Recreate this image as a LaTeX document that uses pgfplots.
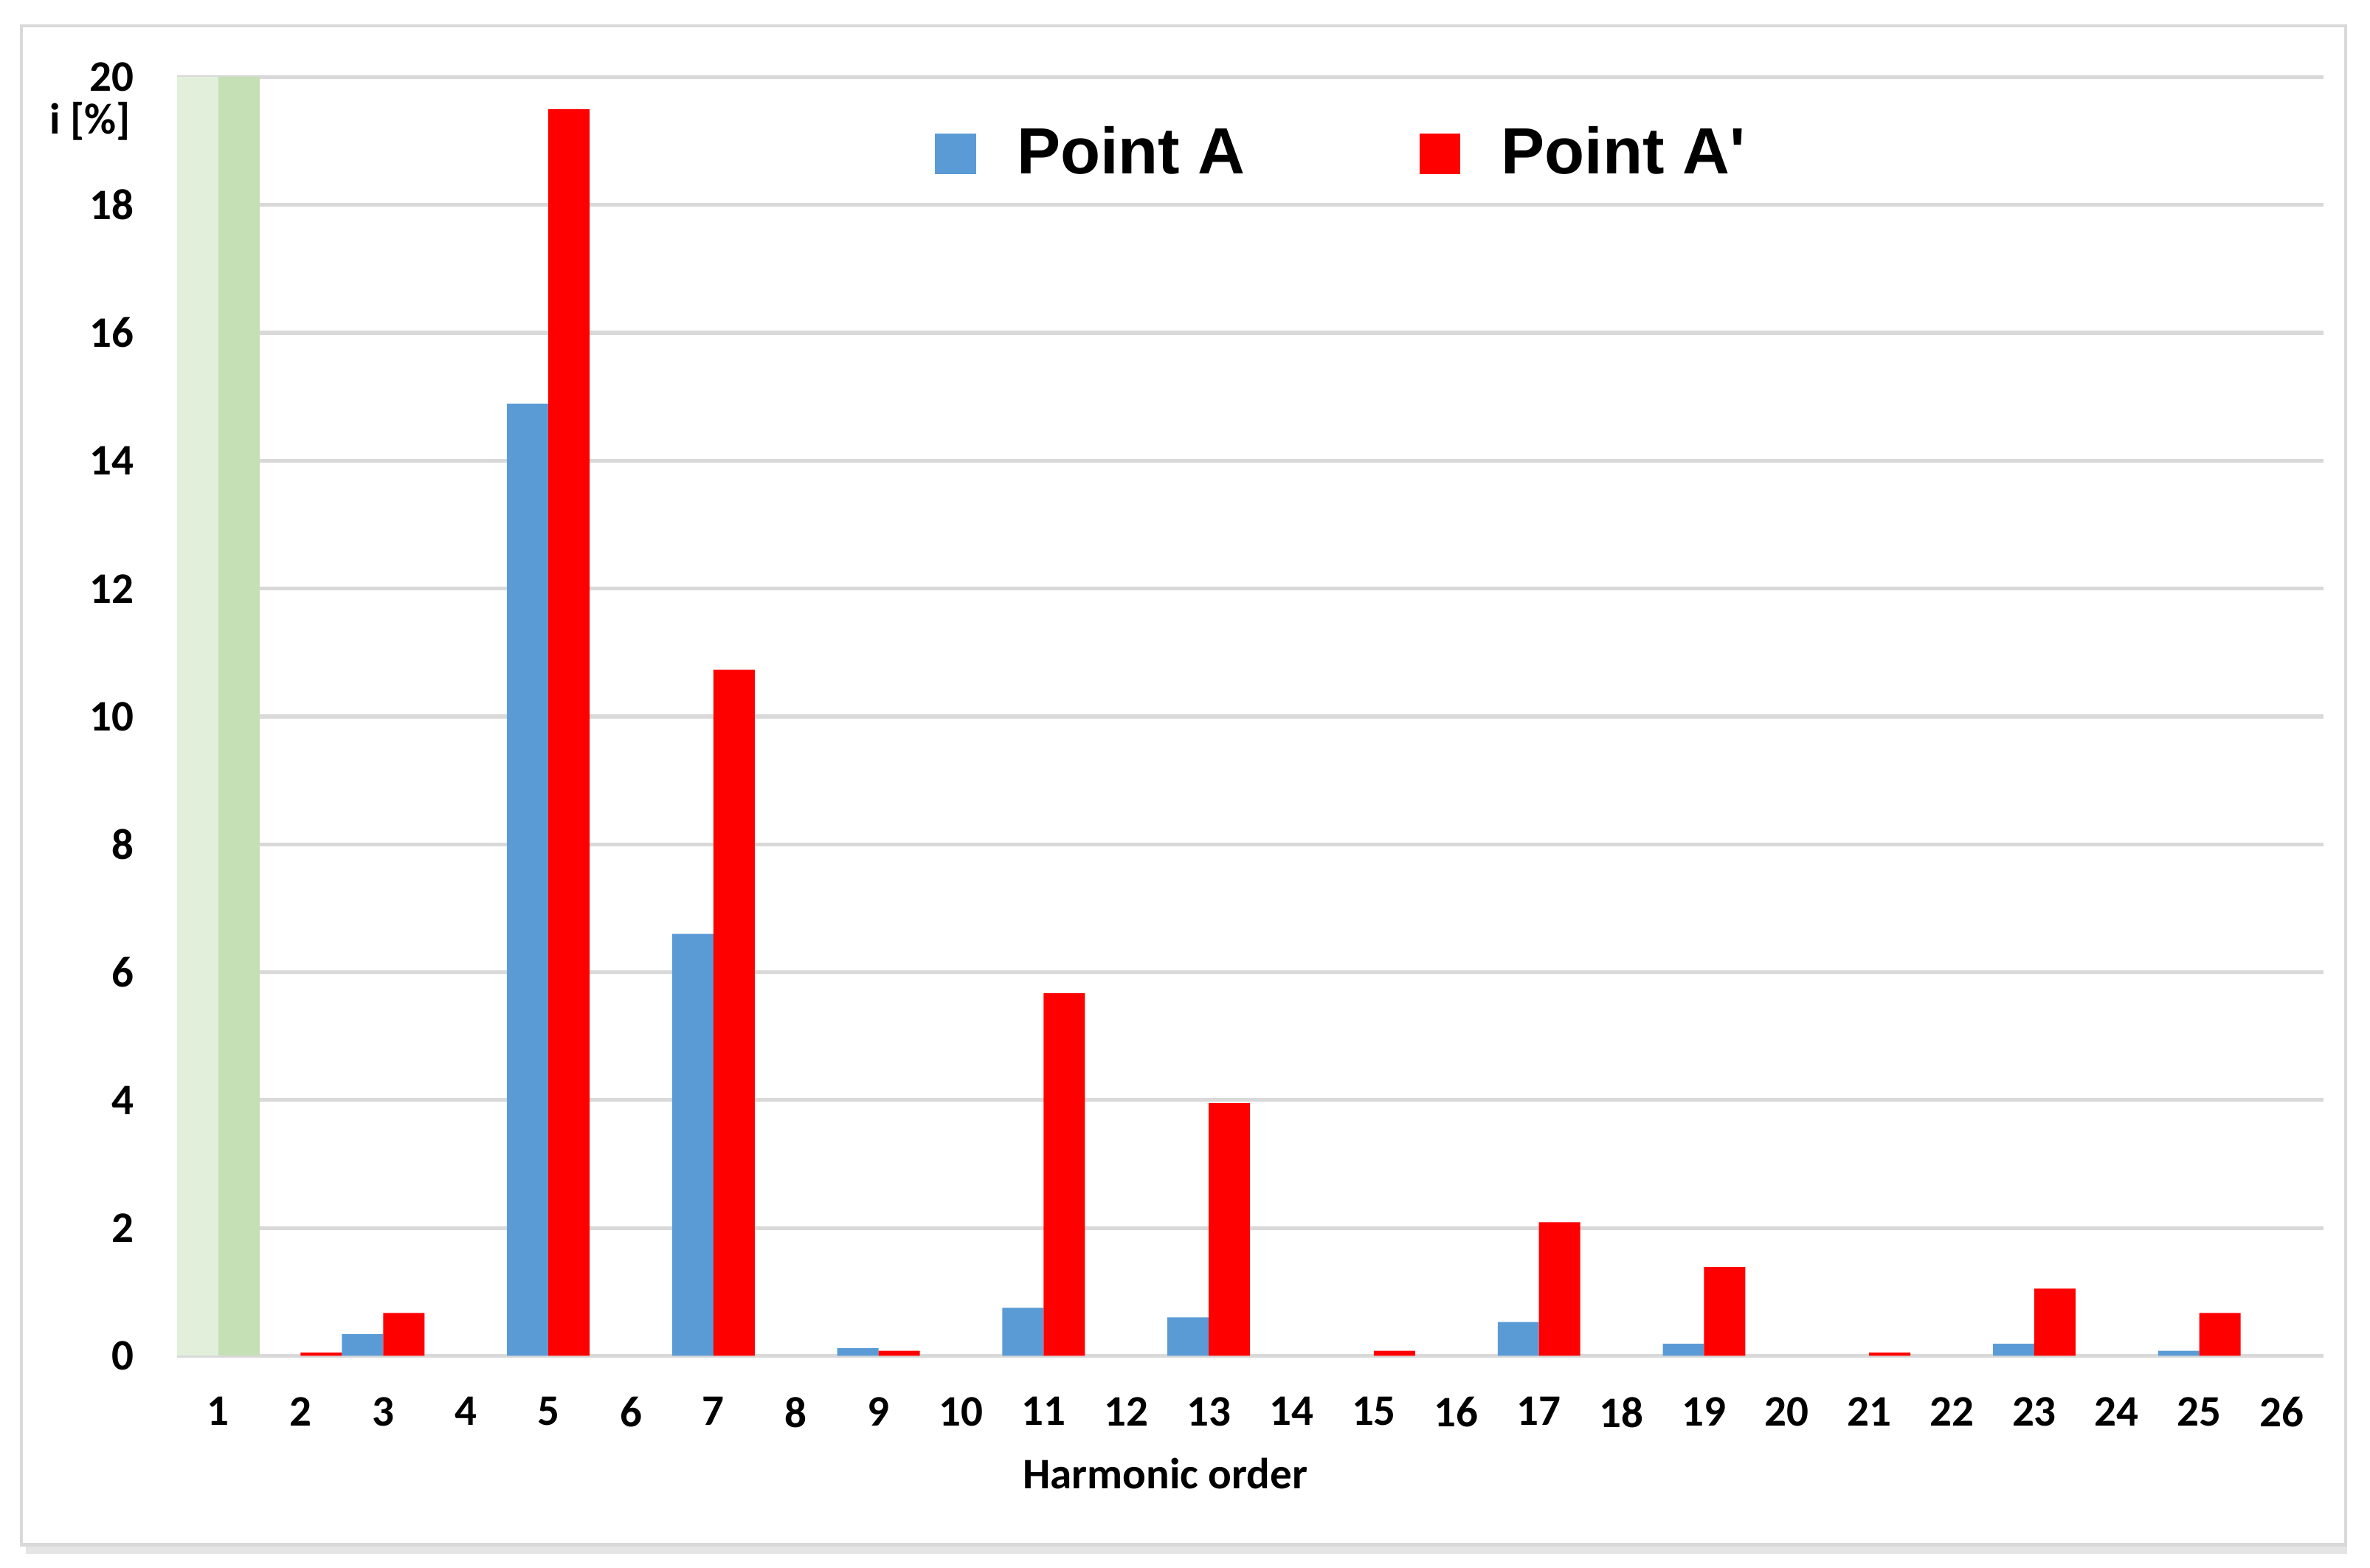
\documentclass[border=0pt]{standalone}
\usepackage{pgfplots}
\pgfplotsset{compat=1.18}
\usepackage{fontspec}
\setmainfont{Carlito}
\newfontfamily\legfont{Liberation Sans}
\definecolor{barblue}{HTML}{5B9BD5}
\definecolor{barred}{HTML}{FF0000}
\definecolor{lgreen}{HTML}{E2EFDA}
\definecolor{dgreen}{HTML}{C5E0B4}
\definecolor{gridgray}{HTML}{D9D9D9}
\begin{document}
\begin{tikzpicture}
\useasboundingbox (0,0) rectangle (15.68,10.37);
\fill[white] (0,0) rectangle (15.68,10.37);
\draw[black!10, line width=0.06cm] (0.17,0.12) -- (15.53,0.12);
\draw[black!15, line width=0.02cm] (0.14,0.15) rectangle (15.52,10.20);
\begin{axis}[
  at={(1.17cm,1.40cm)}, anchor=south west,
  scale only axis, width=14.2cm, height=8.46cm,
  xmin=0.5, xmax=26.5, ymin=0, ymax=20,
  ybar, bar width=0.5,
  axis line style={draw=none},
  ymajorgrids, grid style={gridgray, line width=0.025cm},
  xtick={1,...,26}, ytick={0,2,...,20},
  major tick length=0,
  tick label style={font=\bfseries\fontsize{8.2}{9}\selectfont},
  /pgf/number format/assume math mode=true,
  xticklabel style={anchor=north, yshift=-0.15cm},
  yticklabel style={anchor=east, xshift=-0.16cm},
  legend columns=2,
  legend style={at={(0.3528,0.94)}, anchor=west, draw=none, fill=none, inner sep=0pt,
    font=\legfont\bfseries\fontsize{12.3}{14}\selectfont,
    /tikz/every odd column/.append style={column sep=0.2cm},
    /tikz/every even column/.append style={column sep=1.08cm}},
  legend image code/.code={\fill[#1] (0cm,-0.135cm) rectangle (0.27cm,0.135cm);},
]
\addplot[fill=lgreen, draw=none, bar shift=-0.25, forget plot] coordinates {(1,100)};
\addplot[fill=dgreen, draw=none, bar shift=0.25, forget plot] coordinates {(1,100)};
\addplot[fill=barblue, draw=none, bar shift=-0.25] coordinates {
 (3,0.34) (5,14.89) (7,6.6) (9,0.12) (11,0.75) (13,0.60) (17,0.53) (19,0.19) (23,0.19) (25,0.08)};
\addlegendentry{Point A}
\addplot[fill=barred, draw=none, bar shift=0.25] coordinates {
 (2,0.05) (3,0.67) (5,19.5) (7,10.73) (9,0.08) (11,5.67) (13,3.95) (15,0.08) (17,2.09) (19,1.39) (21,0.05) (23,1.05) (25,0.67)};
\addlegendentry{Point A'}
\end{axis}
\node[anchor=east, font=\bfseries\fontsize{8.2}{9}\selectfont, inner sep=0pt] at (0.87,9.57) {i [\%]};
\node[font=\bfseries\fontsize{8.2}{9}\selectfont, inner sep=0pt] at (7.71,0.62) {Harmonic order};
\end{tikzpicture}
\end{document}
